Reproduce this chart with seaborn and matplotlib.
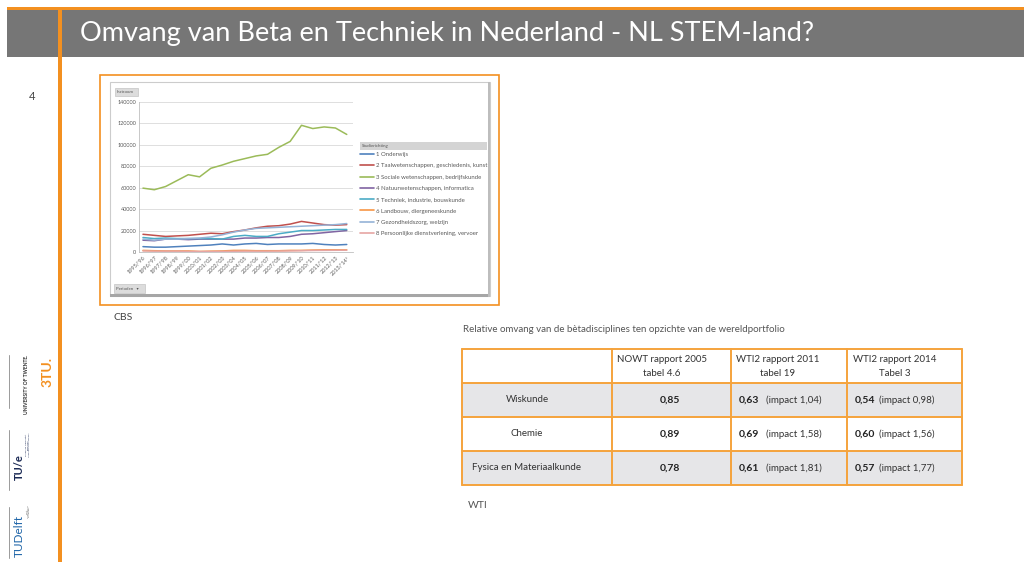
import numpy as np
import pandas as pd
import matplotlib
matplotlib.use("Agg")
import matplotlib.pyplot as plt
from matplotlib.patches import Rectangle
from matplotlib.lines import Line2D
import seaborn as sns

# --- data (CBS instroom per studierichting) ---
periods = ["1995/'96", "1996/'97", "1997/'98", "1998/'99", "1999/'00", "2000/'01",
           "2001/'02", "2002/'03", "2003/'04", "2004/'05", "2005/'06", "2006/'07",
           "2007/'08", "2008/'09", "2009/'10", "2010/'11", "2011/'12", "2012/'13",
           "2013/'14*"]

names = ["1 Onderwijs",
         "2 Taalwetenschappen, geschiedenis, kunst",
         "3 Sociale wetenschappen, bedrijfskunde",
         "4 Natuurwetenschappen, informatica",
         "5 Techniek, industrie, bouwkunde",
         "6 Landbouw, diergeneeskunde",
         "7 Gezondheidszorg, welzijn",
         "8 Persoonlijke dienstverlening, vervoer"]

onderwijs = [5000, 4500, 4500, 5000, 5500, 6000, 6500, 7500, 6500, 7500,
             8000, 7000, 7500, 7500, 7500, 8000, 7000, 6500, 7000]
taal = [16500, 15500, 14500, 15000, 15500, 16500, 17500, 17000, 19000, 20500,
        22500, 24000, 24500, 26000, 28500, 27000, 25500, 25000, 25500]
sociaal = [59500, 58000, 61000, 66500, 72000, 70000, 78000, 81000, 84500, 87000,
           89500, 91000, 97500, 103000, 118000, 115000, 116500, 115500, 109500]
natuur = [11000, 10500, 12000, 12000, 11500, 12000, 12000, 12000, 12000, 13000,
          13000, 13500, 13500, 14500, 16500, 17000, 18000, 19000, 20000]
techniek = [13500, 12500, 13000, 12500, 12500, 12500, 12500, 12000, 14500, 15500,
            14500, 14500, 17000, 18500, 20000, 20000, 20500, 21000, 21000]
landbouw = [1500, 1200, 1000, 1000, 1000, 500, 800, 1000, 1500, 1500,
            1200, 1200, 1200, 1500, 1500, 1800, 2000, 2000, 2000]
gezondheid = [12000, 11000, 12000, 12000, 12500, 13000, 14000, 16000, 18500, 20500,
              22000, 22500, 23000, 23500, 24000, 24500, 25000, 25500, 26500]
persoonlijk = [1000, 800, 800, 800, 600, 500, 500, 600, 700, 800,
               800, 800, 900, 1000, 1200, 1400, 1500, 1600, 1700]

colors = ["#4f81bd", "#c0504d", "#9bbb59", "#8064a2",
          "#4bacc6", "#f79646", "#95b3d7", "#e6a5a3"]

# --- table data ---
table_caption = "Relative omvang van de bètadisciplines ten opzichte van de wereldportfolio"
col_heads = [("NOWT rapport 2005", "tabel 4.6"),
             ("WTI2 rapport 2011", "tabel 19"),
             ("WTI2 rapport 2014", "Tabel 3")]
row_names = ["Wiskunde", "Chemie", "Fysica en Materiaalkunde"]
nowt_2005 = ["0,85", "0,89", "0,78"]
wti_2011 = ["0,63", "0,69", "0,61"]
impact_2011 = ["(impact 1,04)", "(impact 1,58)", "(impact 1,81)"]
wti_2014 = ["0,54", "0,60", "0,57"]
impact_2014 = ["(impact 0,98)", "(impact 1,56)", "(impact 1,77)"]

df = pd.DataFrame({
    "idx": np.tile(np.arange(len(periods)), len(names)),
    "instroom": np.concatenate([onderwijs, taal, sociaal, natuur, techniek,
                                landbouw, gezondheid, persoonlijk]),
    "richting": np.repeat(names, len(periods)),
})

sns.set_theme(style="white")
plt.rcParams['font.family'] = ['Lato', 'DejaVu Sans']

W, H = 1024, 562
fig = plt.figure(figsize=(10.24, 5.62), dpi=100)
ORANGE = "#f39020"


def fx(x):
    return x / W


def fy(y):
    return 1 - y / H


def rect(x0, y0, x1, y1, **kw):
    fig.patches.append(Rectangle((fx(x0), fy(y1)), (x1 - x0) / W, (y1 - y0) / H,
                                 transform=fig.transFigure, figure=fig, **kw))


def txt(x, y, s, **kw):
    kw.setdefault("va", "center")
    fig.text(fx(x), fy(y), s, **kw)


# slide header
rect(7, 10, 1024, 57, fc="#767676", ec="none")
rect(7, 7, 1024, 10, fc=ORANGE, ec="none")
rect(57.5, 7, 62, 562, fc=ORANGE, ec="none")
txt(80, 34, "Omvang van Beta en Techniek in Nederland - NL STEM-land?",
    color="white", fontsize=19.5)
txt(32, 97, "4", color="#444444", fontsize=8, ha="center")

# embedded chart picture frame
rect(100, 75, 499, 305, fc="white", ec=ORANGE, lw=1.2)
rect(110, 82, 490, 296, fc="white", ec="#cccccc", lw=0.8)
rect(110, 294, 490, 297, fc="#a6a6a6", ec="none")
rect(488, 82, 490, 297, fc="#bdbdbd", ec="none")

ax = fig.add_axes([fx(139), fy(252), (353 - 139) / W, (252 - 101.7) / H])
ax.set_zorder(5)
sns.lineplot(data=df, x="idx", y="instroom", hue="richting", hue_order=names,
             palette=colors, lw=1.1, legend=False, ax=ax)
ax.set_xlim(-0.35, 18.55)
ax.set_ylim(0, 140000)
ax.set_yticks(range(0, 140001, 20000))
ax.set_yticklabels([str(v) for v in range(0, 140001, 20000)], fontsize=4,
                   color="#595959")
ax.set_xticks(range(len(periods)))
ax.set_xticklabels(periods, rotation=45, ha="right", rotation_mode="anchor",
                   fontsize=4, color="#595959")
ax.tick_params(length=0, pad=2)
ax.set_xlabel("")
ax.set_ylabel("")
ax.grid(axis="y", color="#d9d9d9", lw=0.6)
for side in ["top", "right"]:
    ax.spines[side].set_visible(False)
for side in ["left", "bottom"]:
    ax.spines[side].set_color("#bfbfbf")
    ax.spines[side].set_linewidth(0.6)
ax.set_facecolor("none")

# pivot buttons
rect(115, 88, 138, 96, fc="#dcdcdc", ec="#c4c4c4", lw=0.5)
txt(117, 92, "Instroom", fontsize=3.2, color="#555555")
rect(114, 284, 145, 293, fc="#dcdcdc", ec="#c4c4c4", lw=0.5)
txt(116, 288.5, "Perioden   \u25be", fontsize=3.2, color="#555555")

# legend
rect(360, 142, 487, 150, fc="#d4d4d4", ec="none")
txt(362, 146, "Studierichting", fontsize=3.2, color="#555555")
handles = [Line2D([], [], color=c, lw=1.2) for c in colors]
fig.legend(handles, names, loc="upper left", bbox_to_anchor=(fx(360), fy(152)),
           frameon=False, fontsize=4.3, handlelength=2.4, handletextpad=0.3,
           labelspacing=1.02, borderpad=0, borderaxespad=0, labelcolor="#595959")

txt(113, 318, "CBS", fontsize=7.5, color="#444444")

# table
txt(463, 330, table_caption, fontsize=7, color="#555555")
xs = [462, 612, 731, 847, 962]
ys = [349, 383, 417, 451, 485]
for r in (1, 3):
    rect(xs[0], ys[r], xs[-1], ys[r + 1], fc="#e6e6e8", ec="none")
for x in xs:
    fig.add_artist(Line2D([fx(x), fx(x)], [fy(ys[0]), fy(ys[-1])], color="#f5a33c", lw=1.4))
for y in ys:
    fig.add_artist(Line2D([fx(xs[0]), fx(xs[-1])], [fy(y), fy(y)], color="#f5a33c", lw=1.4))

head_cx = [662, 778, 895]
for cx, (l1, l2) in zip(head_cx, col_heads):
    txt(cx, 360, l1, fontsize=7, color="#333333", ha="center")
    txt(cx, 373, l2, fontsize=7, color="#333333", ha="center")

for i, name in enumerate(row_names):
    cy = (ys[i + 1] + ys[i + 2]) / 2
    txt(527, cy, name, fontsize=7, color="#333333", ha="center")
    txt(670, cy, nowt_2005[i], fontsize=7.5, color="#222222", ha="center", weight="bold")
    txt(739, cy, wti_2011[i], fontsize=7.5, color="#222222", weight="bold")
    txt(766, cy, impact_2011[i], fontsize=7, color="#333333")
    txt(855, cy, wti_2014[i], fontsize=7.5, color="#222222", weight="bold")
    txt(879, cy, impact_2014[i], fontsize=7, color="#333333")

txt(468, 505, "WTI", fontsize=7.5, color="#555555")

# university logos (rotated)
for y0, y1 in [(355, 408), (430, 490), (507, 558)]:
    fig.add_artist(Line2D([fx(9), fx(9)], [fy(y0), fy(y1)], color="#9a9a9a", lw=0.7))
txt(48, 372, "3TU.", fontsize=10, color=ORANGE, weight="bold", rotation=90, ha="center")
txt(27, 384, "UNIVERSITY OF TWENTE.", fontsize=3.6, color="#333333", weight="bold",
    rotation=90, ha="center")
txt(19, 467, "TU/e", fontsize=8, color="#1b2a55", weight="bold", rotation=90, ha="center")
txt(28, 445, "Technische Universiteit\nEindhoven\nUniversity of Technology", fontsize=1.6,
    color="#1b2a55", rotation=90, ha="center", linespacing=1.1)
txt(19, 536, "TUDelft", fontsize=8.5, color="#1d64a8", rotation=90, ha="center")
txt(28, 512, "Delft\nUniversity of\nTechnology", fontsize=1.6, color="#555555",
    rotation=90, ha="center", linespacing=1.1)

fig.savefig("out.png", dpi=100)
